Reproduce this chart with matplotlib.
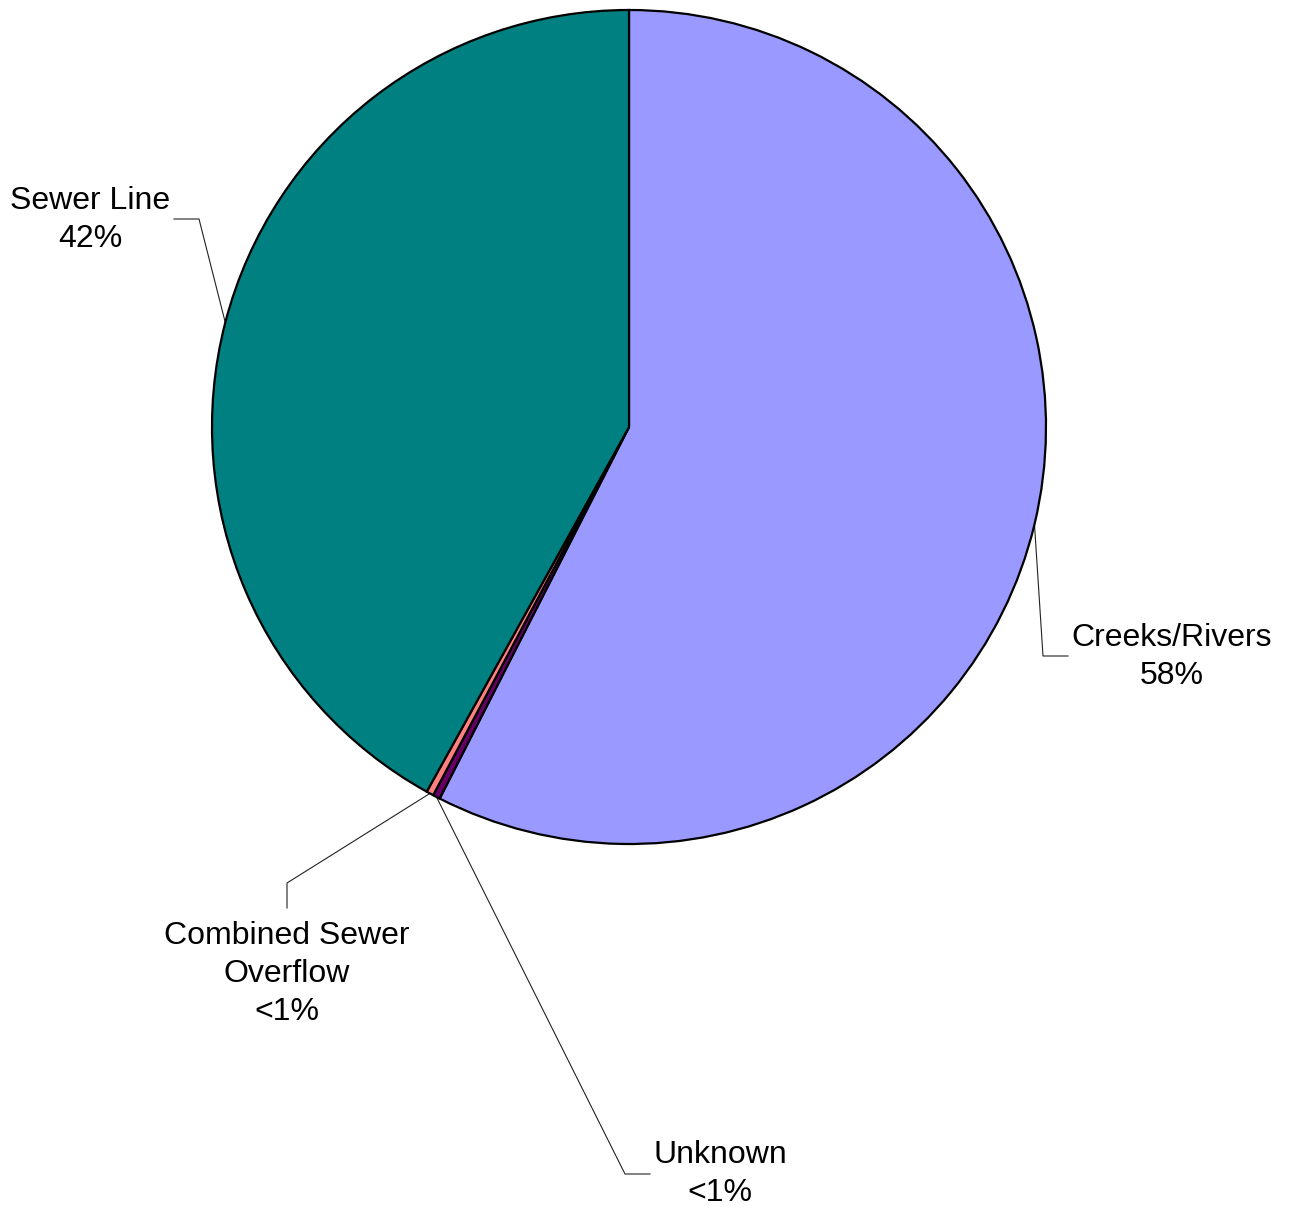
import numpy as np
import matplotlib
matplotlib.use("Agg")
import matplotlib.pyplot as plt

categories = ["Creeks/Rivers", "Unknown", "Combined Sewer\nOverflow", "Sewer Line"]
values = [57.5, 0.28, 0.28, 41.94]
pct_labels = ["58%", "<1%", "<1%", "42%"]
colors = ["#9999FF", "#660066", "#FF8080", "#008080"]

W, H = 1293, 1211
CX, CY, R = 629, 427, 417

fig = plt.figure(figsize=(W / 100, H / 100), dpi=100)
ax = fig.add_axes([(CX - R) / W, (H - CY - R) / H, 2 * R / W, 2 * R / H])
wedges, _ = ax.pie(values, colors=colors, startangle=90, counterclock=False,
                   radius=1.0, wedgeprops=dict(edgecolor="black", linewidth=1.6))
ax.set_xlim(-1, 1)
ax.set_ylim(-1, 1)
ax.set_aspect("equal")
ax.axis("off")

def d(px, py):
    return ((px - CX) / R, (CY - py) / R)

layout = [
    dict(text=(1172, 657), knee=(1043, 656), end=(1068, 656)),
    dict(text=(720, 1174), knee=(625, 1174), end=(650, 1174)),
    dict(text=(287, 974), knee=(287, 883), end=(287, 908)),
    dict(text=(90, 220), knee=(199, 219), end=(174, 219)),
]

for w, cat, pct, lay in zip(wedges, categories, pct_labels, layout):
    mid = np.deg2rad((w.theta1 + w.theta2) / 2)
    x0, y0 = np.cos(mid), np.sin(mid)
    kx, ky = d(*lay["knee"])
    ex, ey = d(*lay["end"])
    ax.plot([x0, kx, ex], [y0, ky, ey], color="#222222", lw=0.8,
            clip_on=False, zorder=0)
    tx, ty = d(*lay["text"])
    ax.text(tx, ty, cat + "\n" + pct, ha="center", va="center",
            fontsize=23, family=["Liberation Sans", "DejaVu Sans"],
            linespacing=1.35, clip_on=False)

fig.savefig("out.png", dpi=100, facecolor="white")
